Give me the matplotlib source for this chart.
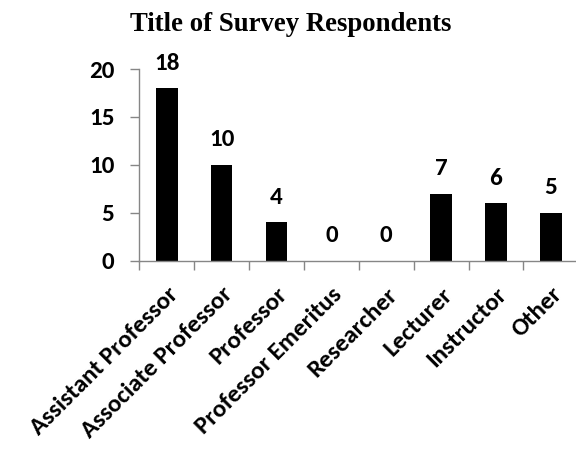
import matplotlib.pyplot as plt
import numpy as np

titles = ["Assistant Professor", "Associate Professor", "Professor",
          "Professor Emeritus", "Researcher", "Lecturer", "Instructor", "Other"]
counts = [18, 10, 4, 0, 0, 7, 6, 5]

label_font = "Carlito"
axis_grey = "#868686"

fig = plt.figure(figsize=(5.76, 4.54), dpi=100)
# right edge runs past the canvas, so the last category gets cut like the original
ax = fig.add_axes([139.4 / 576, 193.3 / 454, 438.8 / 576, 191.7 / 454])

x = np.arange(len(titles))
ax.bar(x, counts, width=0.394, color="black")

for xi, c in zip(x, counts):
    ax.annotate(str(c), (xi, c), xytext=(0, 13.3), textcoords="offset points",
                ha="center", va="baseline", fontsize=18, fontweight="bold",
                family=label_font)

ax.set_xlim(-0.5, len(titles) - 0.5)
ax.set_ylim(0, 20)
ax.set_yticks([0, 5, 10, 15, 20])

# tick marks sit between the categories
ax.set_xticks(np.arange(len(titles) + 1) - 0.5)
ax.set_xticklabels([])
ax.tick_params(axis="x", length=6.5, width=1, color=axis_grey, direction="out")
ax.tick_params(axis="y", length=6.5, width=1, color=axis_grey, direction="out", pad=11.5)
for lbl in ax.get_yticklabels():
    lbl.set_fontsize(18)
    lbl.set_fontweight("bold")
    lbl.set_family(label_font)

# slanted category names under each bar
for xi, name in zip(x, titles):
    ax.annotate(name, (xi, 0), xycoords=("data", "axes fraction"),
                xytext=(5.5, -21.8), textcoords="offset points",
                rotation=45, ha="right", va="center", rotation_mode="anchor",
                fontsize=18, fontweight="bold", family=label_font,
                annotation_clip=False)

for side in ["top", "right"]:
    ax.spines[side].set_visible(False)
for side in ["left", "bottom"]:
    ax.spines[side].set_color(axis_grey)
    ax.spines[side].set_linewidth(1)

fig.text(291 / 576, 1 - 30.7 / 454, "Title of Survey Respondents", ha="center",
         va="baseline", fontsize=19.3, fontweight="bold", family="Liberation Serif")

fig.savefig("out.png", dpi=100)
